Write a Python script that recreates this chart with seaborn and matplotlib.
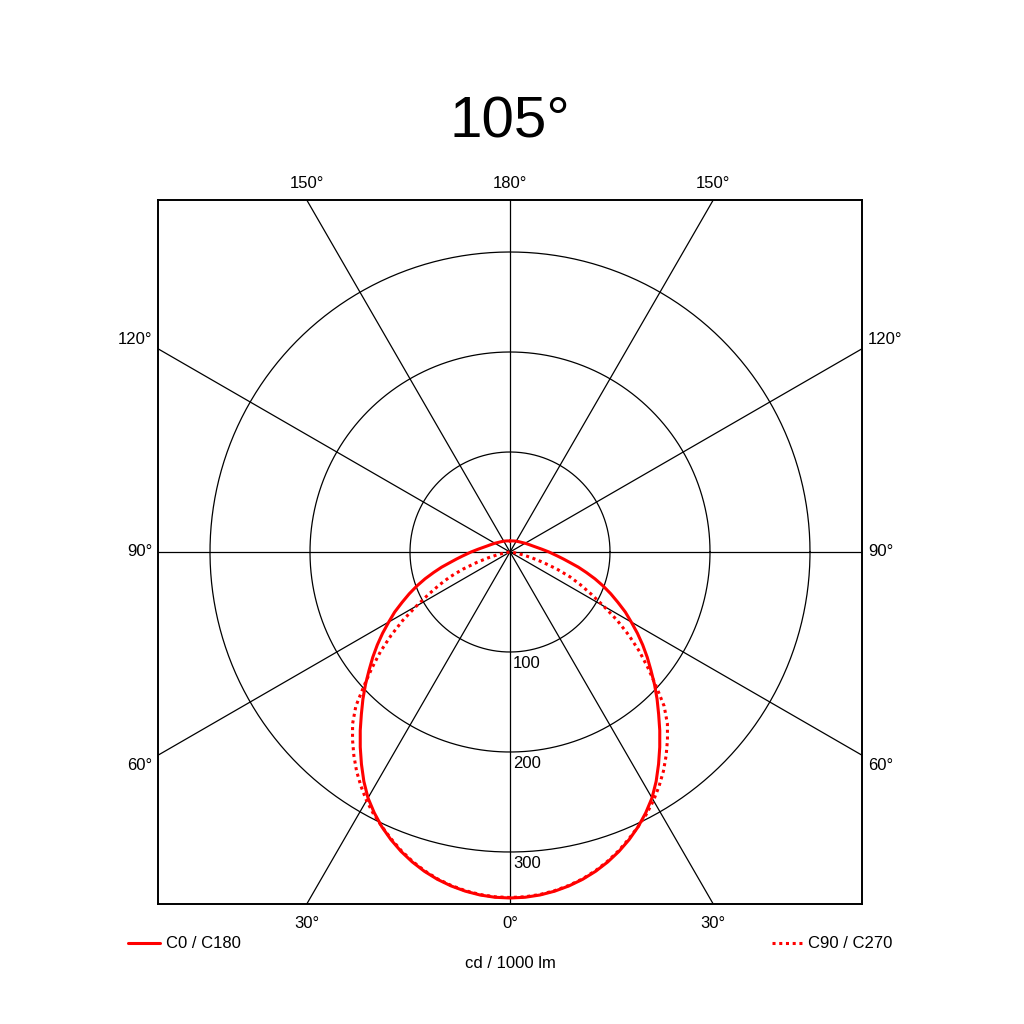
import matplotlib
matplotlib.use("Agg")
import matplotlib.pyplot as plt
import seaborn as sns
import pandas as pd
import numpy as np

# gamma angles (deg) and intensities (cd / 1000 lm)
gamma_c0 = [0, 2.5, 5, 7.5, 10, 12.5, 15, 17.5, 20, 22.5, 25, 27.5, 30, 32.5, 35,
            37.5, 40, 42.5, 45, 47.5, 50, 52.5, 55, 57.5, 60, 62.5, 65, 67.5, 70,
            72.5, 75, 77.5, 80, 82.5, 85, 87.5, 90, 95, 100, 105, 110, 120, 130,
            140, 150, 165, 180]
c0_c180 = [346, 345.6, 344.3, 342.1, 339.1, 335.3, 330.6, 325, 318.6, 311.3, 303.2,
           294, 284, 272, 259, 246, 233, 220, 208, 196, 184, 173, 162, 151, 140,
           130, 119, 109, 99, 89, 79, 70, 61, 54, 48, 43, 39, 32, 27, 23.5, 21,
           17.5, 15, 13.5, 12.5, 11.5, 11]

gamma_c90 = [0, 2.5, 5, 7.5, 10, 12.5, 15, 17.5, 20, 22.5, 25, 27.5, 30, 32.5, 35,
             37.5, 40, 42.5, 45, 47.5, 50, 52.5, 55, 57.5, 60, 62.5, 65, 67.5, 70,
             72.5, 75, 77.5, 80, 82.5, 85, 90]
c90_c270 = [345.5, 345.1, 343.8, 341.6, 338.6, 334.8, 330, 324.3, 317.8, 310.5, 303,
            295.5, 287, 277.5, 267.5, 256.5, 245, 233, 218, 198, 180, 163, 145,
            127, 108, 92, 78, 65, 50, 35, 23, 13, 6, 2, 1, 0.5]

rings = [100, 200, 300]
ring_labels = ["100", "200", "300"]
spokes = [0, 30, 60, 90, 120, 150]
top_labels = ["150°", "180°", "150°"]
side_labels = ["120°", "90°", "60°"]
bottom_labels = ["30°", "0°", "30°"]
title = "105°"
unit = "cd / 1000 lm"
names = ["C0 / C180", "C90 / C270"]

sns.set_style("white")
plt.rcParams["font.family"] = ["Liberation Sans", "DejaVu Sans"]
plt.rcParams["text.color"] = "black"


def to_xy(angles, values):
    # mirror the half curve so the plane is drawn on both sides
    a = np.radians(np.concatenate([-np.array(angles[::-1]), np.array(angles[1:])]))
    r = np.concatenate([np.array(values[::-1]), np.array(values[1:])])
    return r * np.sin(a), -r * np.cos(a)


rows = []
for name, ang, vals in zip(names, [gamma_c0, gamma_c90], [c0_c180, c90_c270]):
    x, y = to_xy(ang, vals)
    for i in range(len(x)):
        rows.append({"x": x[i], "y": y[i], "curve": name, "order": i})
df = pd.DataFrame(rows)

fig = plt.figure(figsize=(10.24, 10.24), dpi=100)
ax = fig.add_axes([158 / 1024, 120 / 1024, 704 / 1024, 704 / 1024])
lim = 352
ax.set_xlim(-lim, lim)
ax.set_ylim(-lim, lim)
ax.set_aspect("equal")

# grid: rings and spokes
t = np.linspace(0, 2 * np.pi, 400)
for r in rings:
    ax.plot(r * np.cos(t), r * np.sin(t), color="black", lw=0.9, zorder=1)
for s in spokes:
    a = np.radians(s)
    ax.plot([-600 * np.sin(a), 600 * np.sin(a)], [600 * np.cos(a), -600 * np.cos(a)],
            color="black", lw=0.9, zorder=1)

sns.lineplot(data=df[df.curve == names[0]], x="x", y="y", sort=False, estimator=None,
             color="#ff0000", lw=2.2, ax=ax, zorder=3)
sns.lineplot(data=df[df.curve == names[1]], x="x", y="y", sort=False, estimator=None,
             color="#ff0000", lw=2.2, linestyle=(0, (1, 1.2)), ax=ax, zorder=3)

for sp in ax.spines.values():
    sp.set_color("black")
    sp.set_linewidth(1.4)
ax.set_xticks([])
ax.set_yticks([])
ax.set_xlabel("")
ax.set_ylabel("")

fs = 12
for r, lab in zip(rings, ring_labels):
    ax.text(3, -r - 11, lab, fontsize=fs, ha="left", va="center", zorder=4)

off = lim * np.tan(np.radians(30))
for xx, lab in zip([-off, 0, off], top_labels):
    ax.text(xx, 368, lab, fontsize=fs, ha="center", va="center", clip_on=False)
for xx, lab in zip([-off, 0, off], bottom_labels):
    ax.text(xx, -372, lab, fontsize=fs, ha="center", va="center", clip_on=False)
for yy, lab in zip([212, 0, -213], side_labels):
    ax.text(-358, yy, lab, fontsize=fs, ha="right", va="center", clip_on=False)
    ax.text(358, yy, lab, fontsize=fs, ha="left", va="center", clip_on=False)

# legend drawn by hand below the box
ax.plot([-382, -350], [-391, -391], color="#ff0000", lw=2.2, clip_on=False)
ax.text(-344, -391, names[0], fontsize=fs, ha="left", va="center", clip_on=False)
ax.plot([262, 293], [-391, -391], color="#ff0000", lw=2.2, linestyle=(0, (1, 1.2)),
        clip_on=False)
ax.text(298, -391, names[1], fontsize=fs, ha="left", va="center", clip_on=False)
ax.text(0, -411, unit, fontsize=fs, ha="center", va="center", clip_on=False)

fig.text(510 / 1024, 1 - 123 / 1024, title, fontsize=42, ha="center", va="center")

fig.savefig("out.png", dpi=100, facecolor="white")
